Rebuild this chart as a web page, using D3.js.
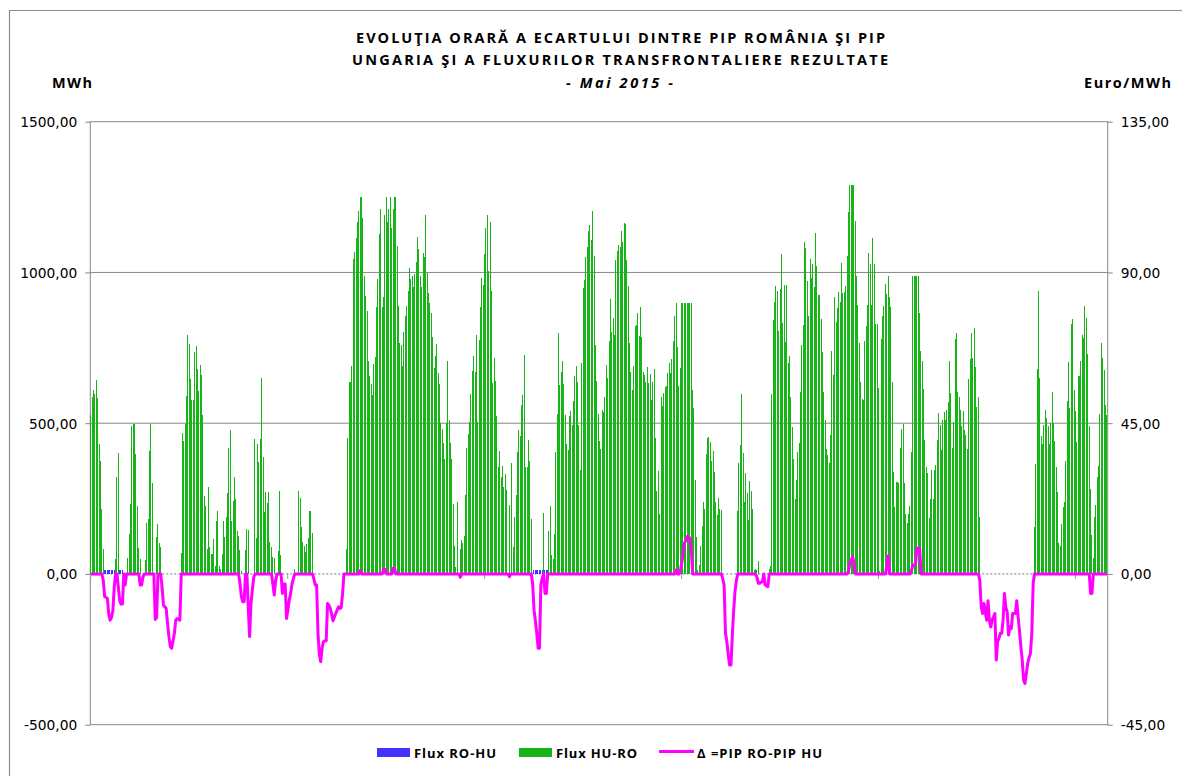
<!DOCTYPE html>
<html><head><meta charset="utf-8">
<script src="https://cdn.jsdelivr.net/npm/d3@7"></script>
<style>body{margin:0;background:#fff}svg{display:block}</style>
</head><body><svg id="c" width="1182" height="776"></svg>
<script>
// ---------- DATA (hourly, May 2015: 31 days x 24 h) ----------
const titleLines = ["EVOLUŢIA ORARĂ A ECARTULUI DINTRE PIP ROMÂNIA ŞI PIP",
                    "UNGARIA ŞI A FLUXURILOR TRANSFRONTALIERE REZULTATE"];
const subtitle = "- Mai 2015 -";
const seriesNames = ["Flux RO-HU", "Flux HU-RO", "Δ =PIP RO-PIP HU"];
const leftTicks = [1500, 1000, 500, 0, -500];
const rightTicks = [135, 90, 45, 0, -45];
const dayTicks = [0, 144, 288, 432, 576, 720];

// Flux HU-RO (MWh), one row per day
const fluxHURO = [
 [527,586,610,596,644,585,431,375,216,83,0,0,0,0,0,0,0,0,50,322,400,0,0,0],
 [0,0,0,52,133,232,491,499,499,398,226,86,50,0,0,0,47,169,181,408,497,302,0,0],
 [122,166,102,90,0,0,0,0,0,0,0,0,0,0,0,0,0,0,70,467,441,499,590,793],
 [763,646,577,577,737,757,681,608,692,660,527,259,224,83,289,90,66,66,116,25,174,209,25,15],
 [66,174,122,188,268,419,478,174,242,320,249,144,126,78,11,0,0,80,149,145,0,0,0,0],
 [449,120,430,372,449,650,389,206,272,234,272,105,88,55,54,0,0,76,275,63,0,0,0,0],
 [0,0,0,0,0,17,0,0,275,251,155,107,94,72,100,118,209,209,137,0,0,0,0,0],
 [0,0,0,0,0,0,0,0,0,0,0,0,0,0,0,0,0,0,0,83,452,638,638,691],
 [1045,1069,1114,1166,1204,1250,1250,1180,989,922,873,707,657,630,594,697,720,887,979,1128,1211,886,920,1191],
 [1250,1168,1210,1250,1148,1210,1250,1250,1088,889,765,761,690,803,854,889,939,1015,979,987,952,994,1035,1118],
 [1078,987,953,1065,1052,1189,999,933,900,866,787,682,724,763,666,630,500,480,433,381,500,707,511,433],
 [381,232,94,22,237,0,83,111,102,126,262,419,464,505,597,674,723,669,793,503,776,887,981,959],
 [1062,1147,1189,1006,1167,939,633,717,639,524,355,408,321,357,289,332,279,0,229,0,367,91,190,263],
 [405,478,456,561,594,727,356,355,445,375,181,0,0,0,0,0,0,0,0,203,0,0,0,144],
 [226,63,51,133,404,530,799,627,669,707,630,527,431,411,524,541,494,575,655,690,636,494,345,701],
 [950,975,1051,1083,1138,1158,1108,1204,1053,760,640,530,442,414,544,536,588,693,650,773,912,804,850,791],
 [1042,1070,1090,1085,1138,1101,1163,1161,1042,955,765,669,611,691,822,825,866,790,884,787,669,659,638,685],
 [633,663,578,637,679,451,275,340,200,586,558,600,620,624,666,701,666,713,771,854,898,752,624,682],
 [898,898,898,898,898,898,898,898,611,549,312,122,13,30,93,159,239,215,398,452,454,437,376,409],
 [338,237,194,253,217,212,0,0,0,0,0,0,0,0,0,0,0,209,369,428,597,400,240,334],
 [270,179,308,276,216,13,15,13,43,0,0,0,0,0,0,0,15,25,596,841,902,955,940,806],
 [945,1062,832,957,768,959,701,723,588,489,380,250,312,403,434,605,760,826,1101,1080,970,854,1046,980],
 [1029,953,1130,1020,926,926,845,737,604,509,414,395,367,461,741,660,920,834,882,936,901,1033,931,934],
 [955,1055,1202,1291,1291,1291,1291,1169,987,892,765,638,581,577,773,821,892,1066,1029,892,1114,1029,828,828],
 [618,10,780,857,889,961,927,989,920,887,637,337,223,305,305,301,419,481,497,301,199,168,200,226],
 [405,989,989,989,989,989,865,738,707,614,445,354,336,185,249,345,249,345,362,445,533,494,411,509],
 [536,511,544,571,707,601,417,505,779,799,604,588,544,491,541,478,461,414,647,713,799,716,817,687],
 [555,586,190,0,0,0,0,0,0,0,0,0,0,0,0,0,0,0,0,0,0,0,0,0],
 [0,0,0,0,0,0,0,0,0,0,0,0,0,0,0,0,0,0,157,365,680,939,651,459],
 [431,494,544,517,491,430,500,604,500,441,356,271,104,94,166,221,240,375,572,702,549,828,846,611],
 [539,439,655,657,707,793,784,889,849,730,491,281,129,53,190,229,323,359,531,765,716,678,561,527]
];

// Flux RO-HU (MWh): [hour, value] for the few non-zero hours
const fluxROHU = [
 [10,14],[11,14],[12,14],[13,14],[14,14],[15,14],[16,14],[17,14],[21,14],[22,14],[23,14],
 [324,13],[325,13],[326,13],[327,13],[328,13],[329,13],[330,13],[332,13],[333,13],[334,13]
];

// Δ = PIP RO - PIP HU (Euro/MWh): [hour, value] for non-zero hours
const deltaPIP = [
 [9,-2],[10,-6.8],[11,-7],[12,-7.3],[13,-12],[14,-13.8],[15,-13],[16,-11],[17,-4],
 [20,-4],[21,-8],[22,-9],[23,-9],[25,-3.3],
 [36,-3.3],[37,-3.3],[38,-1],[47,-13.6],[48,-13],
 [52,-4],[53,-9.3],[54,-9.8],[55,-10.3],[56,-14.8],[57,-18.7],[58,-21.7],[59,-22.2],[60,-20],
 [61,-17.7],[62,-13.8],[63,-13.3],[64,-13.5],[65,-13.8],
 [109,-3],[110,-6.8],[111,-8.3],[112,-8.3],[115,-10],[116,-18.7],[117,-8.8],[118,-4.8],[119,-1],
 [133,-3],[134,-6.3],[135,-2],
 [140,-5.8],[141,-3],[142,-3],[143,-13.3],[144,-10.8],[145,-7.8],[146,-5.8],[147,-3],[148,-1.5],
 [163,-1.5],[164,-3.3],[165,-3.3],[166,-17.7],[167,-24],[168,-26.2],[169,-22.2],[170,-20.2],[171,-20],
 [172,-20],[173,-8.8],[174,-9.3],[175,-10.3],[176,-12],[177,-14],[178,-12.8],[179,-11.8],[180,-10.8],
 [181,-9.8],[182,-10.3],[183,-10],[184,-5.8],
 [197,1],[214,1.4],[215,1.4],[221,1.7],[222,1.7],[270,-1],[306,-0.8],
 [323,-3],[324,-10.8],[325,-14],[326,-17.7],[327,-22.2],[328,-22.2],[329,-3],[330,-1.3],[332,-5.8],[333,-5.8],
 [428,1.2],[431,1],[432,3.2],[433,6],[434,9.2],[435,10],[436,11.2],[437,11.2],[438,10.5],[439,7.2],
 [462,-1.5],[463,-3.3],[464,-17.7],[465,-20.2],[466,-24],[467,-27.2],[468,-27.2],[469,-18.2],[470,-10.8],
 [471,-5],[472,-1.8],
 [487,-1],[488,-2.8],[489,-2.8],[490,-2.5],[491,-2.3],[493,-3.3],[494,-3.5],[495,-3.8],
 [554,1],[555,3.2],[556,4.2],[557,5.2],[558,3],[582,2.5],[583,5.4],
 [600,1],[601,2.7],[602,2.7],[603,3],[604,7.7],[605,7.7],[606,7.7],
 [650,-2],[651,-9.8],[652,-11.8],[653,-8.8],[654,-11.5],[655,-13.8],[656,-8],[657,-13.8],[658,-15.8],
 [659,-13.8],[660,-12.8],[661,-11.8],[662,-25.7],[663,-20.2],[664,-19.2],[665,-17.7],[666,-17.7],
 [667,-13.8],[668,-5.8],[669,-10],[670,-11.3],[671,-18.2],[672,-15.8],[673,-16.3],[674,-11.8],
 [675,-11.8],[676,-11.8],[677,-8],[678,-12.8],[679,-17],[680,-21.7],[681,-25.7],[682,-31.7],
 [683,-32.7],[684,-29.7],[685,-26.7],[686,-25],[687,-23.7],[688,-17.7],[689,-2.8],
 [731,-5.8],[732,-5.8]
];

// ---------- BUILD ----------
const N = fluxHURO.length * 24;
const hours = d3.range(N);
const green = fluxHURO.flat();
const blue = new Array(N).fill(0); fluxROHU.forEach(([h, v]) => blue[h] = v);
const delta = new Array(N).fill(0); deltaPIP.forEach(([h, v]) => delta[h] = v);

const colors = {blue: "#4433ff", green: "#17b417", mag: "#ff00ff", grid: "#868686"};
const fmt = v => v.toFixed(2).replace(".", ",");

const svg = d3.select("#c");
const X0 = 90.3, X1 = 1107.7, YT = 121.7, YB = 724.7;
const y = d3.scaleLinear().domain([-500, 1500]).range([YB, YT]);
const yR = d3.scaleLinear().domain([-45, 135]).range([YB, YT]);
const xb = d3.scaleBand().domain(hours).range([X0, X1]);
const xl = d3.scaleLinear().domain([0, N]).range([X0, X1]);

// outer chart border
svg.append("path").attr("d", "M9.5,1000V10.5H1300").attr("fill", "none")
  .attr("stroke", "#8c8c8c").attr("stroke-width", 1.2);

// gridlines
svg.append("g").selectAll("line").data([1000, 500]).join("line")
  .attr("x1", X0).attr("x2", X1).attr("y1", d => y(d)).attr("y2", d => y(d))
  .attr("stroke", colors.grid).attr("stroke-width", 1);
// plot frame
svg.append("rect").attr("x", X0).attr("y", YT).attr("width", X1 - X0).attr("height", YB - YT)
  .attr("fill", "none").attr("stroke", colors.grid).attr("stroke-width", 1);

// zero (category) axis line, dashed
svg.append("line").attr("x1", X0).attr("x2", X1).attr("y1", y(0)).attr("y2", y(0))
  .attr("stroke", "#70709a").attr("stroke-width", 1).attr("stroke-dasharray", "2,2");

// x ticks (every 6 days)
const xAxis = svg.append("g").attr("transform", `translate(0,${y(0)})`)
  .call(d3.axisBottom(xl).tickValues(dayTicks).tickSize(5).tickFormat(""));
xAxis.select(".domain").remove();
xAxis.selectAll("line").attr("stroke", "#a0a0a0");

// left axis
const la = svg.append("g").attr("transform", `translate(${X0},0)`)
  .call(d3.axisLeft(y).tickValues(leftTicks).tickSize(5).tickPadding(8).tickFormat(fmt));
la.select(".domain").remove();
la.selectAll("line").attr("stroke", colors.grid);
la.selectAll("text").attr("font-family", "DejaVu Sans").attr("font-size", 13.8).attr("fill", "#000")
  .attr("dy", "0.36em");

// right axis
const ra = svg.append("g").attr("transform", `translate(${X1},0)`)
  .call(d3.axisRight(yR).tickValues(rightTicks).tickSize(5).tickPadding(8).tickFormat(fmt));
ra.select(".domain").remove();
ra.selectAll("line").attr("stroke", colors.grid);
ra.selectAll("text").attr("font-family", "DejaVu Sans").attr("font-size", 13.8).attr("fill", "#000")
  .attr("dy", "0.36em");

// bars
const bw = 1;
svg.append("g").attr("shape-rendering", "crispEdges").selectAll("rect")
  .data(hours.filter(h => green[h] > 0)).join("rect")
  .attr("x", h => xb(h)).attr("width", bw)
  .attr("y", h => y(green[h])).attr("height", h => y(0) - y(green[h]))
  .attr("fill", colors.green);
svg.append("g").attr("shape-rendering", "crispEdges").selectAll("rect")
  .data(hours.filter(h => blue[h] > 0)).join("rect")
  .attr("x", h => xb(h)).attr("width", bw)
  .attr("y", h => y(blue[h])).attr("height", h => y(0) - y(blue[h]))
  .attr("fill", colors.blue);

// delta line
const line = d3.line().x(h => xb(h) + xb.bandwidth() / 2).y(h => yR(delta[h]));
svg.append("path").datum(hours).attr("d", line).attr("fill", "none")
  .attr("stroke", colors.mag).attr("stroke-width", 3).attr("stroke-linejoin", "round");

// titles
const tf = "Open Sans";
const tl = [[titleLines[0], 356, 43, 529], [titleLines[1], 352, 65, 536]];
tl.forEach(([t, xx, yy, len]) => svg.append("text").attr("x", xx).attr("y", yy)
  .attr("font-family", tf).attr("font-weight", 700).attr("font-size", 14.5)
  .attr("textLength", len).attr("lengthAdjust", "spacing").text(t));
svg.append("text").attr("x", 566).attr("y", 88).attr("font-family", tf).attr("font-weight", 700)
  .attr("font-style", "italic").attr("font-size", 14.5).attr("textLength", 107)
  .attr("lengthAdjust", "spacing").text(subtitle);
svg.append("text").attr("x", 52).attr("y", 88).attr("font-family", tf).attr("font-weight", 700)
  .attr("font-size", 14.5).attr("textLength", 40).attr("lengthAdjust", "spacing").text("MWh");
svg.append("text").attr("x", 1084).attr("y", 88).attr("font-family", tf).attr("font-weight", 700)
  .attr("font-size", 14.5).attr("textLength", 87).attr("lengthAdjust", "spacing").text("Euro/MWh");

// legend
const lg = svg.append("g");
lg.append("rect").attr("x", 377).attr("y", 748).attr("width", 33).attr("height", 9).attr("fill", colors.blue);
lg.append("rect").attr("x", 519).attr("y", 748).attr("width", 33).attr("height", 9).attr("fill", colors.green);
lg.append("line").attr("x1", 659).attr("x2", 694).attr("y1", 751.5).attr("y2", 751.5)
  .attr("stroke", colors.mag).attr("stroke-width", 3);
[[seriesNames[0], 414, 82], [seriesNames[1], 556, 81], [seriesNames[2], 697, 125]].forEach(([t, xx, len]) =>
  lg.append("text").attr("x", xx).attr("y", 757.5).attr("font-family", tf).attr("font-weight", 700)
    .attr("font-size", 13).attr("textLength", len).attr("lengthAdjust", "spacing").text(t));
</script></body></html>
